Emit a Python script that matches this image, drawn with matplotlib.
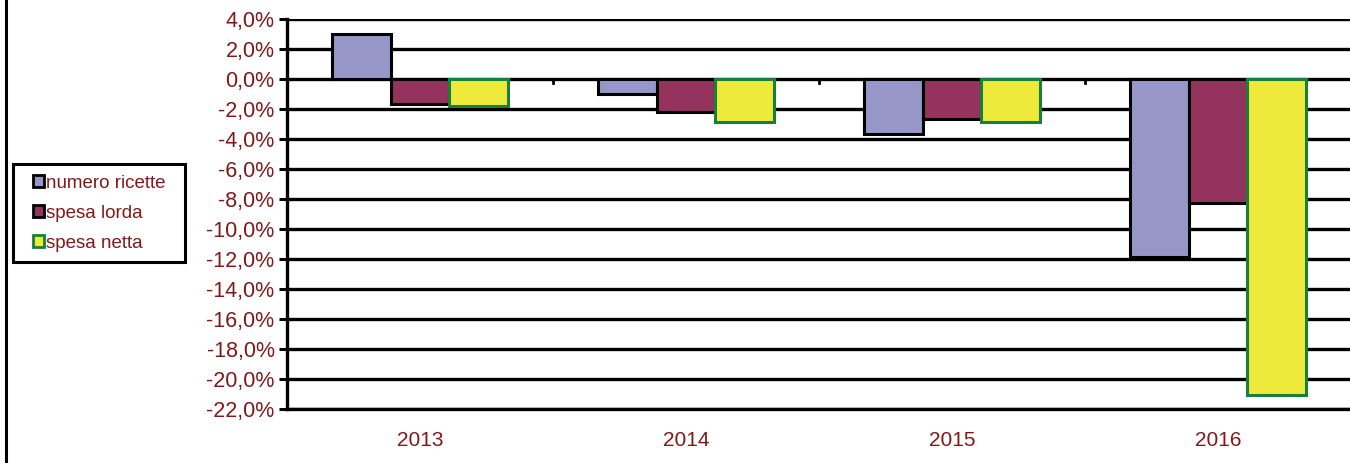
import numpy as np
import matplotlib.pyplot as plt
from matplotlib.lines import Line2D
from matplotlib.patches import Rectangle

plt.rcParams['font.family'] = ['Liberation Sans', 'DejaVu Sans']

years = ['2013', '2014', '2015', '2016']
series = ['numero ricette', 'spesa lorda', 'spesa netta']
numero_ricette = [3.0, -1.0, -3.7, -11.9]
spesa_lorda = [-1.7, -2.2, -2.7, -8.3]
spesa_netta = [-1.8, -2.9, -2.9, -21.1]
values = [numero_ricette, spesa_lorda, spesa_netta]

faces = ['#9696C8', '#93335E', '#EEEA3C']
edges = ['black', 'black', '#16803C']
txt = '#801A1A'

W, H = 1350, 463
fig = plt.figure(figsize=(W / 100, H / 100), dpi=100)
ax = fig.add_axes([287 / W, 1 - 409 / H, 1064 / W, 390 / H])

x = np.arange(len(years))
w = 0.22
for i, (vals, fc, ec) in enumerate(zip(values, faces, edges)):
    ax.bar(x + (i - 1) * w, vals, w, color=fc, edgecolor=ec, linewidth=2.2,
           label=series[i], zorder=3)

ax.set_xlim(-0.5, len(years) - 0.5)
ax.set_ylim(-22, 4)
yt = np.arange(-22, 4.1, 2)
ax.set_yticks(yt)
ax.set_yticklabels([f"{v:.1f}%".replace('.', ',') for v in yt],
                   color=txt, fontsize=15.5)
ax.set_xticks(x)
ax.set_xticklabels(years, color=txt, fontsize=15)
ax.tick_params(axis='x', length=0, pad=16)
ax.tick_params(axis='y', length=6, width=2.2, direction='out', pad=3)
for yv in yt:
    ax.axhline(yv, color='black', lw=2.4, zorder=1)
# category separator ticks on zero line
for sep in x[:-1] + 0.5:
    ax.plot([sep, sep], [0, -0.25], color='black', lw=2, zorder=2)

for s in ['top', 'right']:
    ax.spines[s].set_visible(False)
ax.spines['left'].set_linewidth(2.4)
ax.spines['bottom'].set_linewidth(2.4)

# figure frame on left
fig.add_artist(Line2D([6 / W, 6 / W], [0, 1], color='black', lw=2.2))

# legend box drawn separately
fig.add_artist(Rectangle((13 / W, 1 - 262 / H), 172 / W, 98 / H,
                         transform=fig.transFigure, facecolor='white',
                         edgecolor='black', lw=2.2, zorder=4))
handles = [Rectangle((0, 0), 1, 1, facecolor=fc,
                     edgecolor='black' if i < 2 else '#16803C', lw=2)
           for i, fc in enumerate(faces)]
leg = fig.legend(handles, series, loc='upper left',
                 bbox_to_anchor=(33 / W, 1 - 175 / H), fontsize=13.5,
                 handlelength=0.6, handleheight=0.6, handletextpad=0.1,
                 labelspacing=0.68, borderpad=0, borderaxespad=0,
                 frameon=False, labelcolor=txt)
leg.set_zorder(5)

fig.savefig('out.png', dpi=100)
